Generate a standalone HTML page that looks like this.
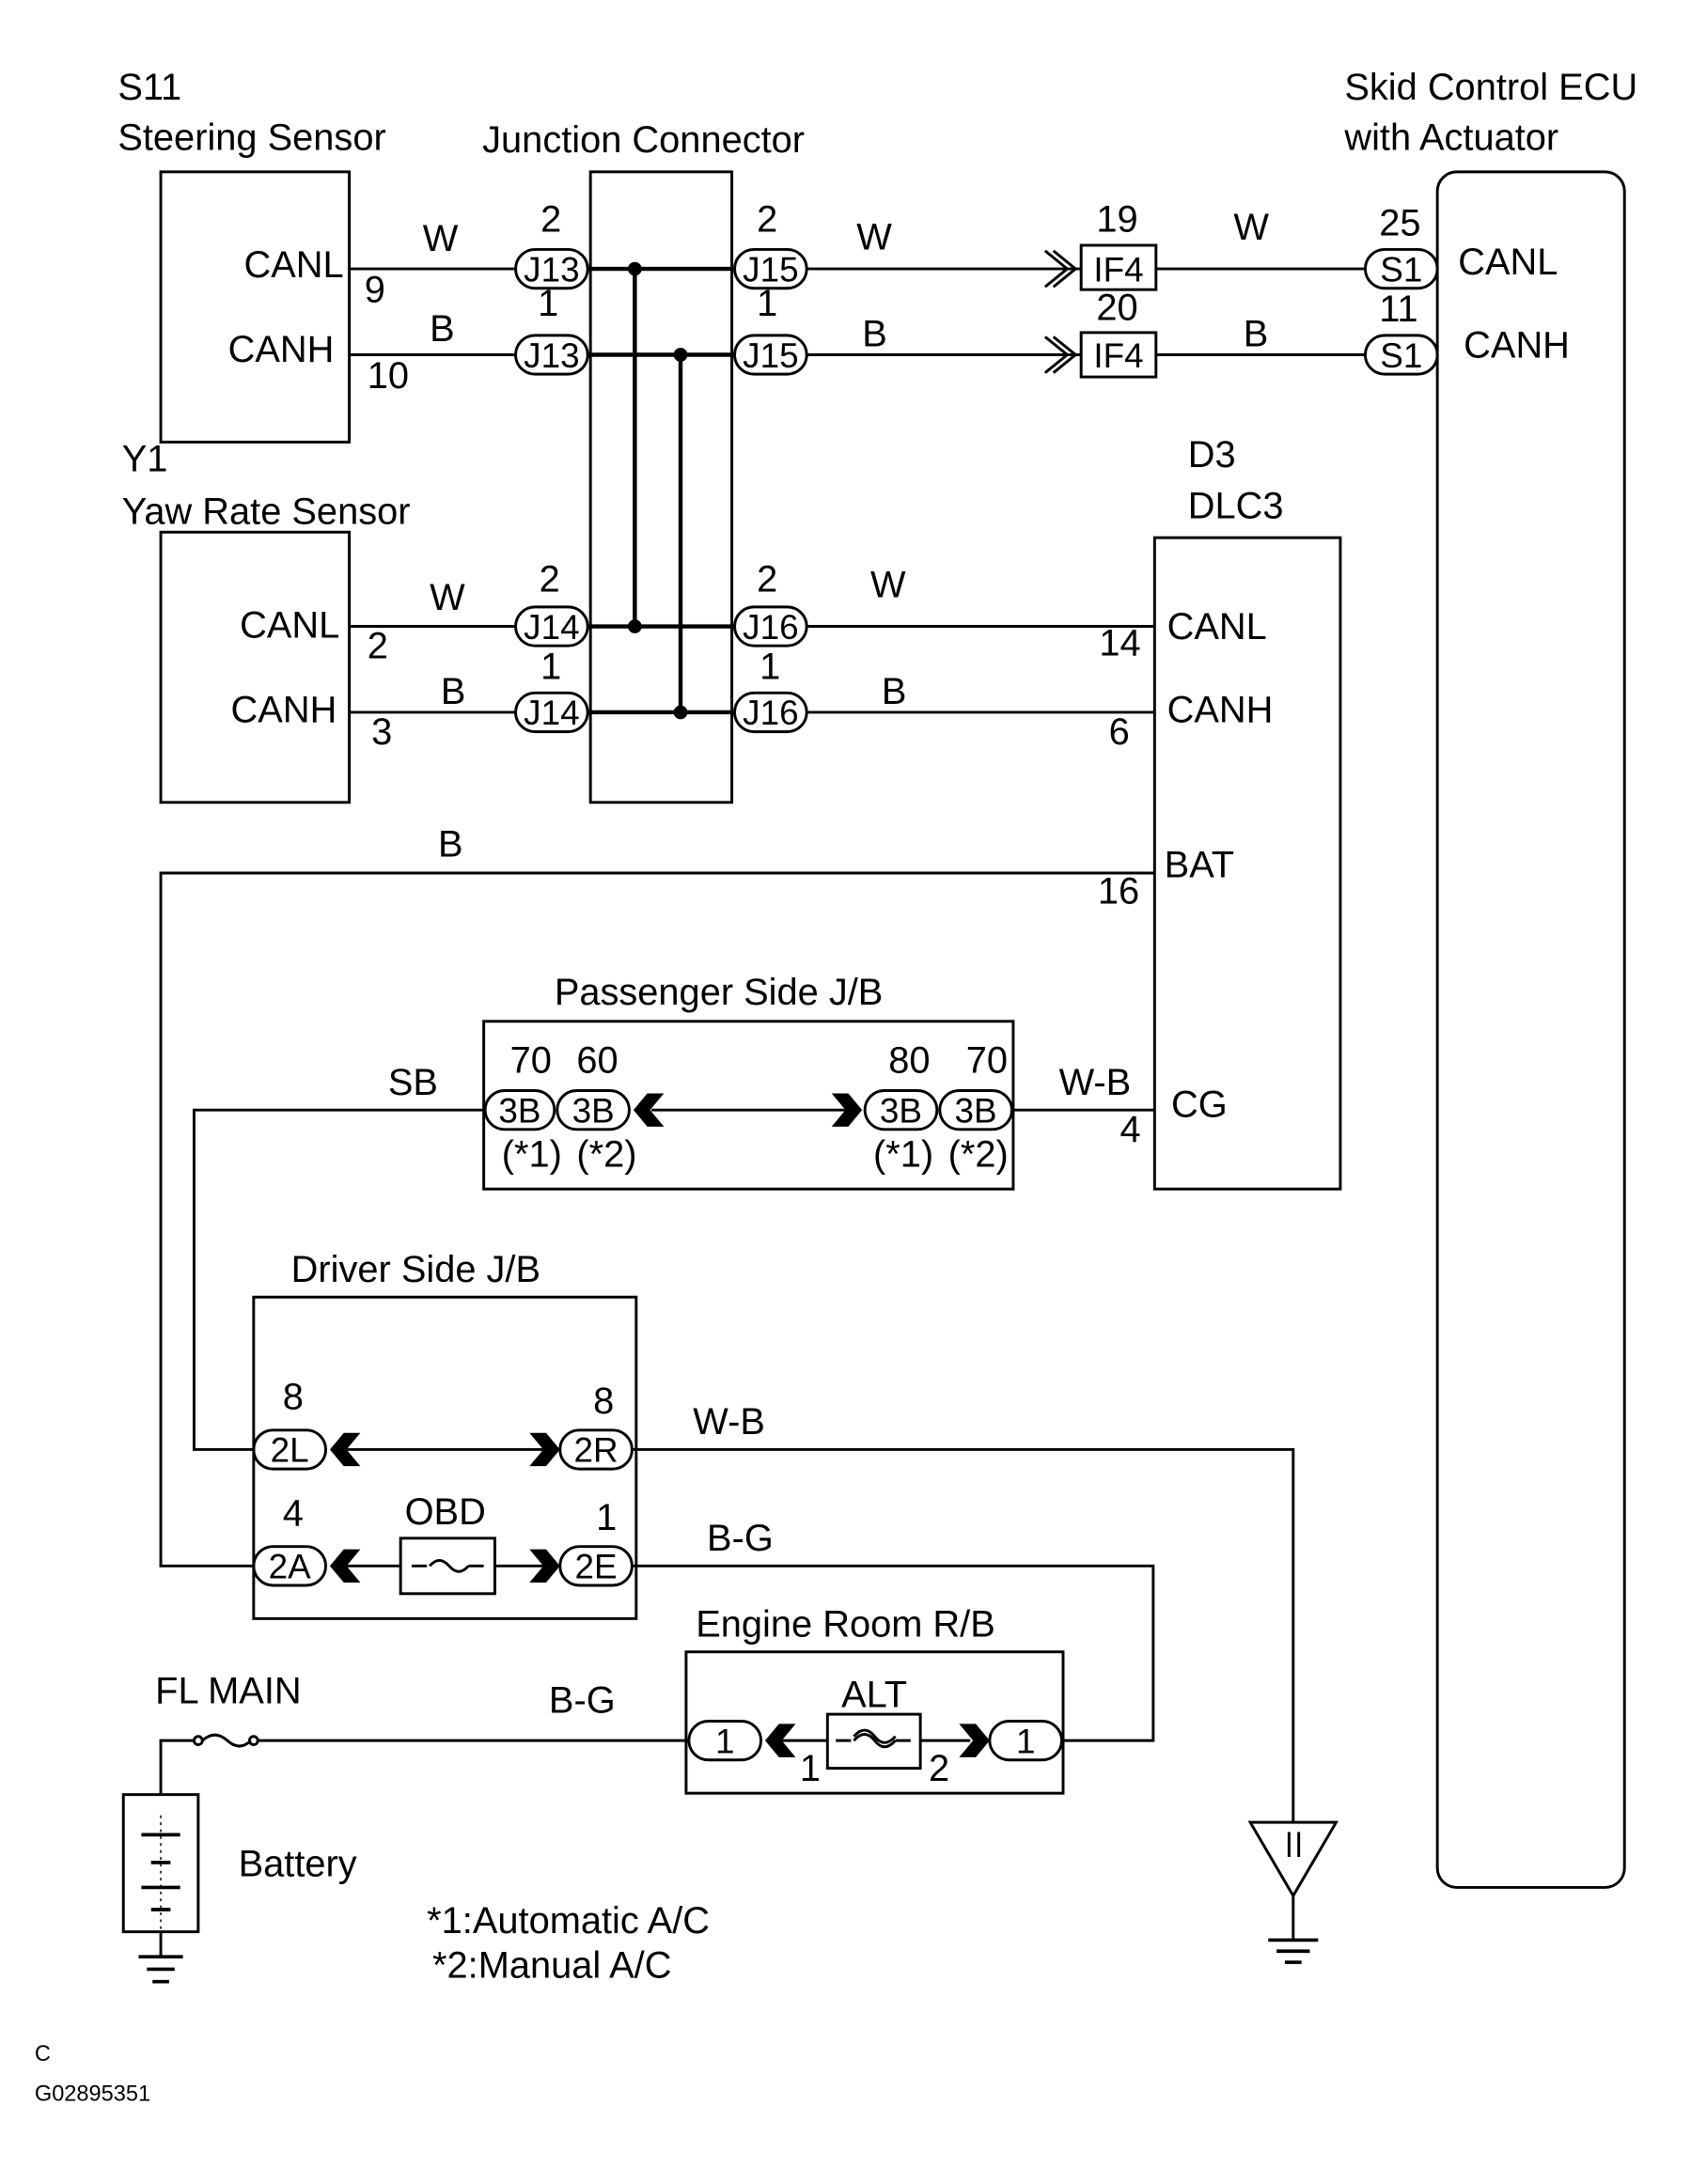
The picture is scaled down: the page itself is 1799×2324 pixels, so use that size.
<!DOCTYPE html>
<html><head><meta charset="utf-8"><style>html,body{margin:0;padding:0;background:#fff}svg{display:block}</style></head>
<body>
<svg width="1799" height="2324" viewBox="0 0 1220 1576" preserveAspectRatio="none" xmlns="http://www.w3.org/2000/svg" font-family="Liberation Sans, sans-serif" font-size="27" fill="#000">
<defs>
<g id="chL"><polygon points="0,0 10,-12 22,-12 12,0 22,12 10,12"/></g>
<g id="chR"><polygon points="0,0 -10,-12 -22,-12 -12,0 -22,12 -10,12"/></g>
</defs>
<g stroke="#000" stroke-width="2" fill="none">
<rect x="116" y="124" width="136" height="195"/>
<line x1="252" y1="194" x2="372" y2="194"/>
<line x1="252" y1="256" x2="372" y2="256"/>
<rect x="372" y="180" width="52" height="28" rx="14"/>
<rect x="372" y="242" width="52" height="28" rx="14"/>
<rect x="426" y="124" width="102" height="455"/>
<line x1="424" y1="194" x2="530" y2="194" stroke-width="3"/>
<line x1="424" y1="256" x2="530" y2="256" stroke-width="3"/>
<line x1="424" y1="452" x2="530" y2="452" stroke-width="3"/>
<line x1="424" y1="514" x2="530" y2="514" stroke-width="3"/>
<line x1="458" y1="194" x2="458" y2="452" stroke-width="3"/>
<line x1="491" y1="256" x2="491" y2="514" stroke-width="3"/>
<rect x="530" y="180" width="52" height="28" rx="14"/>
<rect x="530" y="242" width="52" height="28" rx="14"/>
<line x1="582" y1="194" x2="780" y2="194"/>
<line x1="582" y1="256" x2="780" y2="256"/>
<polyline points="760,181 776,194 760,207"/><polyline points="754,181 770,194 754,207"/>
<polyline points="760,243 776,256 760,269"/><polyline points="754,243 770,256 754,269"/>
<rect x="780" y="177" width="54" height="32"/>
<rect x="780" y="240" width="54" height="32"/>
<line x1="834" y1="194" x2="985" y2="194"/>
<line x1="834" y1="256" x2="985" y2="256"/>
<rect x="985" y="180" width="52" height="28" rx="14"/>
<rect x="985" y="242" width="52" height="28" rx="14"/>
<rect x="1037" y="124" width="135" height="1238" rx="14"/>
<rect x="116" y="384" width="136" height="195"/>
<line x1="252" y1="452" x2="372" y2="452"/>
<line x1="252" y1="514" x2="372" y2="514"/>
<rect x="372" y="438" width="52" height="28" rx="14"/>
<rect x="372" y="500" width="52" height="28" rx="14"/>
<rect x="530" y="438" width="52" height="28" rx="14"/>
<rect x="530" y="500" width="52" height="28" rx="14"/>
<line x1="582" y1="452" x2="833" y2="452"/>
<line x1="582" y1="514" x2="833" y2="514"/>
<rect x="833" y="388" width="134" height="470"/>
<polyline points="833,630 116,630 116,1130 183,1130"/>
<rect x="349" y="737" width="382" height="121"/>
<rect x="350" y="787" width="50" height="28" rx="14"/>
<rect x="402" y="787" width="52" height="28" rx="14"/>
<rect x="624" y="787" width="52" height="28" rx="14"/>
<rect x="678" y="787" width="52" height="28" rx="14"/>
<line x1="470" y1="801" x2="610" y2="801"/>
<polyline points="350,801 140,801 140,1046 183,1046"/>
<line x1="730" y1="801" x2="833" y2="801"/>
<rect x="183" y="936" width="276" height="232"/>
<rect x="183" y="1032" width="52" height="28" rx="14"/>
<rect x="404" y="1032" width="52" height="28" rx="14"/>
<line x1="250" y1="1046" x2="392" y2="1046"/>
<rect x="183" y="1116" width="52" height="28" rx="14"/>
<rect x="404" y="1116" width="52" height="28" rx="14"/>
<line x1="250" y1="1130" x2="289" y2="1130"/>
<line x1="357" y1="1130" x2="392" y2="1130"/>
<rect x="289" y="1110" width="68" height="40"/>
<line x1="297" y1="1130" x2="308" y2="1130"/><line x1="338" y1="1130" x2="349" y2="1130"/>
<path d="M310,1130 q7,-8 14,0 t14,0"/>
<polyline points="456,1046 933,1046 933,1315"/>
<polyline points="456,1130 832,1130 832,1256 766,1256"/>
<rect x="495" y="1192" width="272" height="102"/>
<rect x="497" y="1242" width="52" height="28" rx="14"/>
<rect x="714" y="1242" width="52" height="28" rx="14"/>
<rect x="597" y="1237" width="67" height="39"/>
<line x1="560" y1="1256" x2="597" y2="1256"/>
<line x1="664" y1="1256" x2="700" y2="1256"/>
<line x1="603" y1="1256" x2="614" y2="1256"/><line x1="646" y1="1256" x2="657" y2="1256"/>
<path d="M616,1256 q8,-9 15,0 t15,0"/>
<path d="M616,1253 q8,-9 15,0 t15,0"/>
<line x1="186" y1="1256" x2="497" y2="1256"/>
<polyline points="140,1256 116,1256 116,1295"/>
<circle cx="143" cy="1256" r="3"/><circle cx="183" cy="1256" r="3"/>
<path d="M146,1256 q9,-8 18,0 t17,0"/>
<rect x="89" y="1295" width="54" height="99"/>
<line x1="116" y1="1394" x2="116" y2="1412"/>
<line x1="100" y1="1412" x2="132" y2="1412" stroke-width="2.5"/>
<line x1="106" y1="1421" x2="126" y2="1421" stroke-width="2.5"/>
<line x1="110" y1="1430" x2="122" y2="1430" stroke-width="2.5"/>
<line x1="102" y1="1324" x2="130" y2="1324" stroke-width="2.5"/>
<line x1="109" y1="1344" x2="123" y2="1344" stroke-width="2.5"/>
<line x1="102" y1="1362" x2="130" y2="1362" stroke-width="2.5"/>
<line x1="109" y1="1378" x2="123" y2="1378" stroke-width="2.5"/>
<line x1="116" y1="1310" x2="116" y2="1394" stroke-width="1" stroke-dasharray="2,3"/>
<polygon points="902,1315 964,1315 933,1368"/>
<line x1="930" y1="1322" x2="930" y2="1340"/><line x1="937" y1="1322" x2="937" y2="1340"/>
<line x1="933" y1="1368" x2="933" y2="1400"/>
<line x1="915" y1="1400" x2="951" y2="1400" stroke-width="2.5"/>
<line x1="921" y1="1408" x2="945" y2="1408" stroke-width="2.5"/>
<line x1="927" y1="1416" x2="939" y2="1416" stroke-width="2.5"/>
</g>
<g>
<circle cx="458" cy="194" r="5"/><circle cx="491" cy="256" r="5"/>
<circle cx="458" cy="452" r="5"/><circle cx="491" cy="514" r="5"/>
<use href="#chL" x="457" y="801"/><use href="#chR" x="622" y="801"/>
<use href="#chL" x="238" y="1046"/><use href="#chR" x="404" y="1046"/>
<use href="#chL" x="238" y="1130"/><use href="#chR" x="404" y="1130"/>
<use href="#chL" x="552" y="1256"/><use href="#chR" x="714" y="1256"/>
</g>
<g>
<text x="85" y="72">S11</text><text x="85" y="108">Steering Sensor</text>
<text x="348" y="110">Junction Connector</text>
<text x="970" y="72">Skid Control ECU</text><text x="970" y="108">with Actuator</text>
<text x="248" y="200" text-anchor="end">CANL</text><text x="241" y="261" text-anchor="end">CANH</text>
<text x="263" y="218">9</text><text x="265" y="280">10</text>
<text x="305" y="181">W</text><text x="310" y="246">B</text>
<text x="390" y="167">2</text><text x="388" y="228">1</text>
<text x="398" y="203" text-anchor="middle" font-size="25">J13</text><text x="398" y="265" text-anchor="middle" font-size="25">J13</text>
<text x="546" y="167">2</text><text x="546" y="228">1</text>
<text x="556" y="203" text-anchor="middle" font-size="25">J15</text><text x="556" y="265" text-anchor="middle" font-size="25">J15</text>
<text x="618" y="180">W</text><text x="622" y="250">B</text>
<text x="791" y="167">19</text><text x="791" y="231">20</text>
<text x="807" y="203" text-anchor="middle" font-size="25">IF4</text><text x="807" y="265" text-anchor="middle" font-size="25">IF4</text>
<text x="890" y="173">W</text><text x="897" y="250">B</text>
<text x="995" y="170">25</text><text x="995" y="232">11</text>
<text x="1011" y="203" text-anchor="middle" font-size="25">S1</text><text x="1011" y="265" text-anchor="middle" font-size="25">S1</text>
<text x="1052" y="198">CANL</text><text x="1056" y="258">CANH</text>
<text x="88" y="340">Y1</text><text x="88" y="378">Yaw Rate Sensor</text>
<text x="245" y="460" text-anchor="end">CANL</text><text x="243" y="521" text-anchor="end">CANH</text>
<text x="265" y="475">2</text><text x="268" y="537">3</text>
<text x="310" y="440">W</text><text x="318" y="508">B</text>
<text x="389" y="427">2</text><text x="390" y="490">1</text>
<text x="398" y="461" text-anchor="middle" font-size="25">J14</text><text x="398" y="523" text-anchor="middle" font-size="25">J14</text>
<text x="546" y="427">2</text><text x="548" y="490">1</text>
<text x="556" y="461" text-anchor="middle" font-size="25">J16</text><text x="556" y="523" text-anchor="middle" font-size="25">J16</text>
<text x="628" y="431">W</text><text x="636" y="508">B</text>
<text x="793" y="473">14</text><text x="800" y="537">6</text>
<text x="857" y="337">D3</text><text x="857" y="374">DLC3</text>
<text x="842" y="461">CANL</text><text x="842" y="521">CANH</text>
<text x="840" y="633">BAT</text><text x="845" y="806">CG</text>
<text x="792" y="652">16</text><text x="808" y="824">4</text>
<text x="316" y="618">B</text>
<text x="400" y="725">Passenger Side J/B</text>
<text x="368" y="774">70</text><text x="416" y="774">60</text><text x="641" y="774">80</text><text x="697" y="774">70</text>
<text x="375" y="810" text-anchor="middle" font-size="25">3B</text><text x="428" y="810" text-anchor="middle" font-size="25">3B</text>
<text x="650" y="810" text-anchor="middle" font-size="25">3B</text><text x="704" y="810" text-anchor="middle" font-size="25">3B</text>
<text x="362" y="842">(*1)</text><text x="416" y="842">(*2)</text><text x="630" y="842">(*1)</text><text x="684" y="842">(*2)</text>
<text x="280" y="790">SB</text><text x="764" y="790">W-B</text>
<text x="210" y="925">Driver Side J/B</text>
<text x="204" y="1017">8</text><text x="428" y="1020">8</text>
<text x="209" y="1055" text-anchor="middle" font-size="25">2L</text><text x="430" y="1055" text-anchor="middle" font-size="25">2R</text>
<text x="500" y="1035">W-B</text>
<text x="204" y="1101">4</text><text x="292" y="1100">OBD</text><text x="430" y="1104">1</text>
<text x="209" y="1139" text-anchor="middle" font-size="25">2A</text><text x="430" y="1139" text-anchor="middle" font-size="25">2E</text>
<text x="510" y="1119">B-G</text>
<text x="502" y="1181">Engine Room R/B</text>
<text x="523" y="1265" text-anchor="middle" font-size="25">1</text><text x="740" y="1265" text-anchor="middle" font-size="25">1</text>
<text x="607" y="1232">ALT</text>
<text x="577" y="1285">1</text><text x="670" y="1285">2</text>
<text x="112" y="1229">FL MAIN</text><text x="396" y="1236">B-G</text>
<text x="172" y="1354">Battery</text>
<text x="308" y="1395">*1:Automatic A/C</text>
<text x="312" y="1427">*2:Manual A/C</text>
<text x="25" y="1487" font-size="16">C</text>
<text x="25" y="1516" font-size="16">G02895351</text>
</g>
</svg>
</body></html>
